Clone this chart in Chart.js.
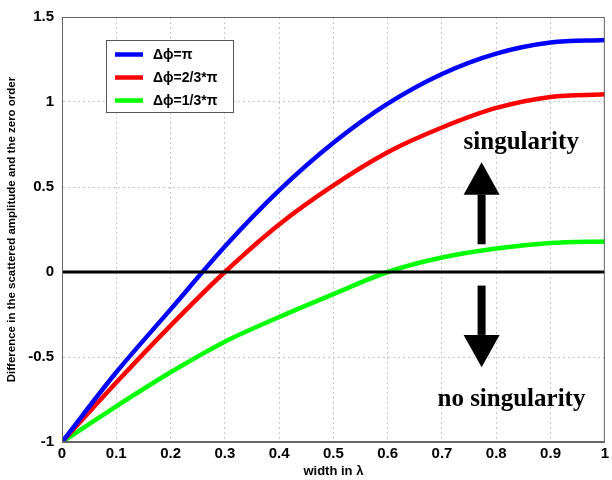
<!DOCTYPE html>
<html>
<head>
<meta charset="utf-8">
<script src="https://cdn.jsdelivr.net/npm/chart.js@4/dist/chart.umd.min.js"></script>
<style>
    html, body { margin: 0; padding: 0; background: #fff; }
    #wrap { width: 612px; height: 480px; }
</style>
</head>
<body>
<div id="wrap"><canvas id="phaseChart" width="612" height="480"></canvas></div>
<script>
// values
const widthValues = [0, 0.1, 0.2, 0.3, 0.4, 0.5, 0.6, 0.7, 0.8, 0.9, 1];
const piValues = [-1, -0.59, -0.22, 0.15, 0.48, 0.76, 0.99, 1.165, 1.285, 1.35, 1.365];
const twoThirdsValues = [-1, -0.65, -0.315, 0.0, 0.28, 0.51, 0.705, 0.85, 0.965, 1.03, 1.045];
const oneThirdValues = [-1, -0.79, -0.59, -0.41, -0.265, -0.13, 0.0, 0.085, 0.138, 0.17, 0.18];
const zeroLineX = [0, 1];
const zeroLineY = [0, 0];

const seriesLabels = ["\u0394\u03d5=\u03c0", "\u0394\u03d5=2/3*\u03c0", "\u0394\u03d5=1/3*\u03c0"];
const seriesColors = ["#0000ff", "#ff0000", "#00ff00"];
const xTickLabels = ["0", "0.1", "0.2", "0.3", "0.4", "0.5", "0.6", "0.7", "0.8", "0.9", "1"];
const yTickLabels = ["-1", "-0.5", "0", "0.5", "1", "1.5"];

const sans = "'Liberation Sans', Arial, sans-serif";
const serif = "'Liberation Serif', 'Times New Roman', serif";

function toPoints(xs, ys) {
    return xs.map((x, i) => ({ x: x, y: ys[i] }));
}

// frame on all four sides
const framePlugin = {
    id: "frame",
    afterDatasetsDraw(chart) {
        const { ctx, chartArea: a } = chart;
        ctx.save();
        ctx.strokeStyle = "#666";
        ctx.lineWidth = 1;
        ctx.strokeRect(a.left + 0.5, a.top + 0.5, a.right - a.left - 1, a.bottom - a.top - 1);
        ctx.restore();
    }
};

// legend box in the upper left corner
const legendPlugin = {
    id: "boxLegend",
    afterDatasetsDraw(chart) {
        const { ctx, chartArea: a } = chart;
        const left = a.left + 44, top = a.top + 23;
        const w = 127, h = 72;
        ctx.save();
        ctx.fillStyle = "#fff";
        ctx.fillRect(left, top, w, h);
        ctx.strokeStyle = "#555";
        ctx.lineWidth = 1;
        ctx.strokeRect(left + 0.5, top + 0.5, w, h);
        ctx.font = "bold 14px " + sans;
        ctx.textBaseline = "middle";
        seriesLabels.forEach((label, i) => {
            const y = top + 14.5 + i * 23;
            ctx.strokeStyle = seriesColors[i];
            ctx.lineWidth = 4.5;
            ctx.beginPath();
            ctx.moveTo(left + 9, y);
            ctx.lineTo(left + 37, y);
            ctx.stroke();
            ctx.fillStyle = "#000";
            ctx.fillText(label, left + 47, y + 1);
        });
        ctx.restore();
    }
};

// "singularity" / "no singularity" notes with arrows
const notePlugin = {
    id: "notes",
    afterDatasetsDraw(chart) {
        const { ctx } = chart;
        const xs = chart.scales.x, ys = chart.scales.y;
        const ax = xs.getPixelForValue(0.773);
        ctx.save();
        ctx.fillStyle = "#000";
        ctx.font = "bold 25px " + serif;
        ctx.textAlign = "center";
        ctx.textBaseline = "middle";
        ctx.fillText("singularity", xs.getPixelForValue(0.846), ys.getPixelForValue(0.76));
        ctx.fillText("no singularity", xs.getPixelForValue(0.828), ys.getPixelForValue(-0.75));

        function arrow(yShaft, yBase, yTip) {
            const s = ys.getPixelForValue(yShaft), b = ys.getPixelForValue(yBase), t = ys.getPixelForValue(yTip);
            ctx.fillRect(ax - 4, Math.min(s, b), 8, Math.abs(b - s));
            ctx.beginPath();
            ctx.moveTo(ax - 18, b);
            ctx.lineTo(ax + 18, b);
            ctx.lineTo(ax, t);
            ctx.closePath();
            ctx.fill();
        }
        arrow(0.163, 0.455, 0.645);
        arrow(-0.08, -0.37, -0.56);
        ctx.restore();
    }
};

const curveSets = [piValues, twoThirdsValues, oneThirdValues].map((vals, i) => ({
    label: seriesLabels[i],
    data: toPoints(widthValues, vals),
    borderColor: seriesColors[i],
    borderWidth: 4.5,
    pointRadius: 0,
    cubicInterpolationMode: "monotone",
    order: 1
}));

new Chart(document.getElementById("phaseChart"), {
    type: "line",
    data: {
        datasets: [
            {
                label: "zero",
                data: toPoints(zeroLineX, zeroLineY),
                borderColor: "#000",
                borderWidth: 3,
                pointRadius: 0,
                order: 0
            },
            ...curveSets
        ]
    },
    options: {
        responsive: false,
        animation: false,
        events: [],
        layout: { padding: { top: 14, right: 3, left: 0, bottom: 0 } },
        plugins: { legend: { display: false }, tooltip: { enabled: false } },
        scales: {
            x: {
                type: "linear",
                min: 0,
                max: 1,
                afterFit(scale) { scale.height = 38; },
                afterBuildTicks(scale) {
                    scale.ticks = widthValues.map(v => ({ value: v }));
                },
                ticks: {
                    autoSkip: false,
                    maxRotation: 0,
                    padding: 3,
                    color: "#000",
                    font: { family: sans, size: 15, weight: "bold" },
                    callback: (v, i) => xTickLabels[i]
                },
                grid: { color: "#c8c8c8", drawTicks: false },
                border: { color: "#666", dash: [2, 3] },
                title: {
                    display: true,
                    text: "width in \u03bb",
                    color: "#000",
                    padding: { top: 0, bottom: 1 },
                    font: { family: sans, size: 13, weight: "bold" }
                }
            },
            y: {
                type: "linear",
                min: -1,
                max: 1.5,
                afterFit(scale) { scale.width = 62; },
                afterBuildTicks(scale) {
                    scale.ticks = [-1, -0.5, 0, 0.5, 1, 1.5].map(v => ({ value: v }));
                },
                ticks: {
                    padding: 8,
                    color: "#000",
                    font: { family: sans, size: 15, weight: "bold" },
                    callback: (v, i) => yTickLabels[i]
                },
                grid: { color: "#c8c8c8", drawTicks: false },
                border: { color: "#666", dash: [2, 3] },
                title: {
                    display: true,
                    text: "Difference in the scattered amplitude and the zero order",
                    color: "#000",
                    padding: { top: 5, bottom: 0 },
                    font: { family: sans, size: 11.5, weight: "bold" }
                }
            }
        }
    },
    plugins: [framePlugin, legendPlugin, notePlugin]
});
</script>
</body>
</html>
